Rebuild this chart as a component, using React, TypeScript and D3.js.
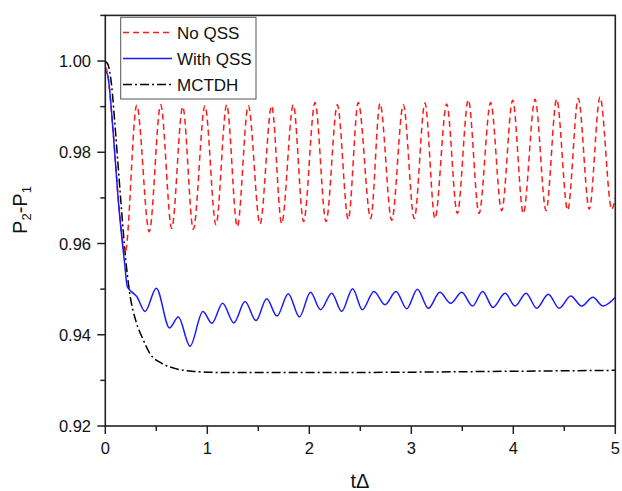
import React from "react";
import * as d3 from "d3";

// ---- data ----
const xTicks = [0, 1, 2, 3, 4, 5];
const xMinorTicks = [0.5, 1.5, 2.5, 3.5, 4.5];
const yTicks = [0.92, 0.94, 0.96, 0.98, 1.0];
const yMinorTicks = [0.93, 0.95, 0.97, 0.99, 1.01];
const yTickLabels = ["0.92", "0.94", "0.96", "0.98", "1.00"];

const seriesNames = ["No QSS", "With QSS", "MCTDH"];

// No QSS (red dashed): start, descent, then alternating peaks/troughs
const noQssT = [
  0, 0.02, 0.078, 0.127, 0.195,
  0.308, 0.431, 0.543, 0.651, 0.759, 0.863, 0.977, 1.085, 1.19, 1.294,
  1.402, 1.517, 1.631, 1.729, 1.843, 1.944, 2.056, 2.164, 2.275, 2.382,
  2.48, 2.602, 2.693, 2.808, 2.922, 3.029, 3.134, 3.232, 3.347, 3.451,
  3.559, 3.664, 3.778, 3.886, 3.994, 4.098, 4.213, 4.321, 4.425, 4.533,
  4.637, 4.745, 4.85, 4.965, 5.0,
];
const noQssV = [
  0.9988, 0.9975, 0.9842, 0.9700, 0.9580,
  0.9903, 0.9626, 0.9904, 0.9633, 0.9900, 0.9631, 0.9902, 0.9641, 0.9904, 0.9637,
  0.9902, 0.9643, 0.9902, 0.9644, 0.9904, 0.9648, 0.9909, 0.9648, 0.9904, 0.9653,
  0.9909, 0.9655, 0.9907, 0.9651, 0.9904, 0.9655, 0.9908, 0.9655, 0.9906, 0.9666,
  0.9915, 0.9666, 0.9909, 0.9672, 0.9914, 0.9666, 0.9916, 0.9672, 0.9916, 0.9673,
  0.9918, 0.9675, 0.9921, 0.9675, 0.9700,
];

// With QSS (blue solid)
const withQssT = [
  0, 0.02, 0.078, 0.127, 0.19, 0.215, 0.259, 0.308, 0.39, 0.5,
  0.63, 0.716, 0.83, 0.957, 1.045, 1.15, 1.26, 1.37, 1.477, 1.582,
  1.683, 1.794, 1.903, 2.012, 2.11, 2.22, 2.317, 2.425, 2.52, 2.634,
  2.742, 2.85, 2.955, 3.06, 3.167, 3.28, 3.386, 3.494, 3.6, 3.7,
  3.8, 3.92, 4.017, 4.125, 4.23, 4.343, 4.45, 4.563, 4.67, 4.78,
  4.88, 5.0,
];
const withQssV = [
  0.9977, 0.9972, 0.9842, 0.9695, 0.9555, 0.9506, 0.9494, 0.9484, 0.9451, 0.9502,
  0.9415, 0.9439, 0.9375, 0.9451, 0.9425, 0.9469, 0.9426, 0.9473, 0.9431, 0.9479,
  0.9441, 0.949, 0.9439, 0.9493, 0.9455, 0.9491, 0.9451, 0.9501, 0.9455, 0.9495,
  0.9466, 0.9495, 0.9457, 0.95, 0.9458, 0.9493, 0.9469, 0.9493, 0.9463, 0.9495,
  0.946, 0.9491, 0.9463, 0.9491, 0.9458, 0.9489, 0.9458, 0.9485, 0.9463, 0.9482,
  0.9463, 0.9482,
];

// MCTDH (black dash-dot)
const mctdhT = [
  0, 0.03, 0.06, 0.1, 0.15, 0.2, 0.24, 0.3, 0.37, 0.44,
  0.55, 0.7, 0.85, 1.0, 1.3, 2.0, 3.0, 4.0, 5.0,
];
const mctdhV = [
  1.0, 0.999, 0.995, 0.9845, 0.97, 0.9565, 0.949, 0.943, 0.939, 0.9358,
  0.9338, 0.9325, 0.932, 0.9318, 0.9317, 0.9317, 0.9318, 0.932, 0.9322,
];

const W = 622;
const H = 491;
const PL = 105.3;
const PR = 615.3;
const PT = 15.4;
const PB = 426;

const FONT = "'Liberation Sans', Arial, Helvetica, sans-serif";

export default function App() {
  const x = d3.scaleLinear().domain([0, 5]).range([PL, PR]);
  const y = d3.scaleLinear().domain([0.92, 1.01]).range([PB, PT]);

  const mk = (ts: number[], vs: number[]) =>
    d3
      .line<number>()
      .x((_, i) => x(ts[i]))
      .y((v) => y(v))
      .curve(d3.curveMonotoneX)(vs) || "";

  const redPath = mk(noQssT, noQssV);
  const bluePath = mk(withQssT, withQssV);
  const blackPath = mk(mctdhT, mctdhV);

  const red = "#ff1a1a";
  const blue = "#1a1aff";
  const axisColor = "#222";

  const legendY = [32.5, 58.5, 84.5];

  return (
    <svg
      width={W}
      height={H}
      style={{ position: "absolute", left: 0, top: 0, background: "#fff" }}
      fontFamily={FONT}
    >
      <rect x={0} y={0} width={W} height={H} fill="#fff" />
      <defs>
        <clipPath id="plotclip">
          <rect x={PL} y={PT} width={PR - PL} height={PB - PT} />
        </clipPath>
      </defs>

      <g clipPath="url(#plotclip)">
        <path d={blackPath} fill="none" stroke="#000" strokeWidth={1.5} strokeDasharray="9,3,2,3" />
        <path d={redPath} fill="none" stroke={red} strokeWidth={1.5} strokeDasharray="6,4" />
        <path d={bluePath} fill="none" stroke={blue} strokeWidth={1.5} />
      </g>

      {/* frame */}
      <rect x={PL} y={PT} width={PR - PL} height={PB - PT} fill="none" stroke={axisColor} strokeWidth={1.6} />

      {/* x ticks */}
      {xTicks.map((t) => (
        <g key={"xt" + t}>
          <line x1={x(t)} x2={x(t)} y1={PB} y2={PB + 8} stroke={axisColor} strokeWidth={1.5} />
          <text x={x(t)} y={454} textAnchor="middle" fontSize={16.5} fill="#111">
            {t}
          </text>
        </g>
      ))}
      {xMinorTicks.map((t) => (
        <line key={"xm" + t} x1={x(t)} x2={x(t)} y1={PB} y2={PB + 5} stroke={axisColor} strokeWidth={1.5} />
      ))}

      {/* y ticks */}
      {yTicks.map((v, i) => (
        <g key={"yt" + v}>
          <line x1={PL - 8} x2={PL} y1={y(v)} y2={y(v)} stroke={axisColor} strokeWidth={1.5} />
          <text x={91} y={y(v) + 6} textAnchor="end" fontSize={16.5} fill="#111">
            {yTickLabels[i]}
          </text>
        </g>
      ))}
      {yMinorTicks.map((v) => (
        <line key={"ym" + v} x1={PL - 5} x2={PL} y1={y(v)} y2={y(v)} stroke={axisColor} strokeWidth={1.5} />
      ))}

      {/* axis labels */}
      <text x={360} y={488} textAnchor="middle" fontSize={20} fill="#111">
        tΔ
      </text>
      <text transform="translate(27,210) rotate(-90)" textAnchor="middle" fontSize={20} fill="#111">
        <tspan>P</tspan>
        <tspan dy={4} fontSize={13}>2</tspan>
        <tspan dy={-4}>-P</tspan>
        <tspan dy={4} fontSize={13}>1</tspan>
      </text>

      {/* legend */}
      <rect x={120.7} y={17.3} width={135.3} height={81.7} fill="#fff" stroke="#555" strokeWidth={1} />
      <line x1={123} x2={172} y1={legendY[0]} y2={legendY[0]} stroke={red} strokeWidth={1.5} strokeDasharray="6,4" />
      <line x1={123} x2={172} y1={legendY[1]} y2={legendY[1]} stroke={blue} strokeWidth={1.5} />
      <line x1={123} x2={172} y1={legendY[2]} y2={legendY[2]} stroke="#000" strokeWidth={1.5} strokeDasharray="9,3,2,3" />
      {seriesNames.map((n, i) => (
        <text key={n} x={177} y={legendY[i] + 6.5} fontSize={17} fill="#111">
          {n}
        </text>
      ))}
    </svg>
  );
}
